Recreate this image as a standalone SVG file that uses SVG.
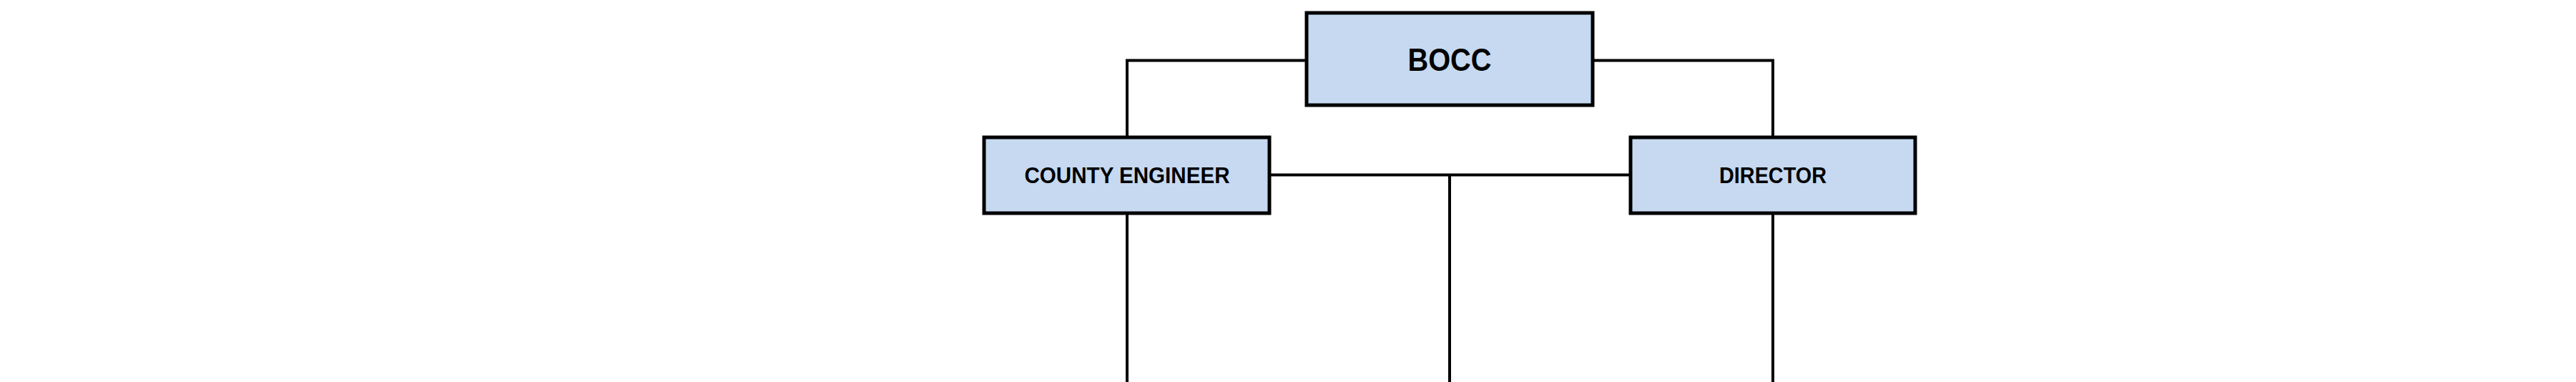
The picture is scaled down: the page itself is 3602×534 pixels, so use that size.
<svg xmlns="http://www.w3.org/2000/svg" width="3602" height="534" viewBox="0 0 3602 534">
<style>
.box{fill:#c6d9f1;stroke:#000;stroke-width:5}
.lbl{font-family:"Liberation Sans",Arial,sans-serif;font-weight:bold;fill:#000;text-anchor:middle}
.conn{fill:none;stroke:#000;stroke-width:4}
</style>
<rect width="3602" height="534" fill="#fff"/>
<g id="connectors">
<path class="conn" d="M1827,84.5 H1576 V192"/>
<path class="conn" d="M2227,84.5 H2479 V192"/>
<path class="conn" d="M1775,244.5 H2280"/>
<path class="conn" d="M2027,244.5 V534"/>
<path class="conn" d="M1576,298 V534"/>
<path class="conn" d="M2479,298 V534"/>
</g>
<g id="bocc">
<rect class="box" x="1827" y="18" width="400" height="129"/>
<text class="lbl" x="2027" y="99" font-size="44" textLength="117" lengthAdjust="spacingAndGlyphs">BOCC</text>
</g>
<g id="county-engineer">
<rect class="box" x="1376" y="192" width="399" height="106"/>
<text class="lbl" x="1576" y="256" font-size="31" textLength="287" lengthAdjust="spacingAndGlyphs">COUNTY ENGINEER</text>
</g>
<g id="director">
<rect class="box" x="2280" y="192" width="398" height="106"/>
<text class="lbl" x="2479" y="256" font-size="31" textLength="150" lengthAdjust="spacingAndGlyphs">DIRECTOR</text>
</g>
</svg>
